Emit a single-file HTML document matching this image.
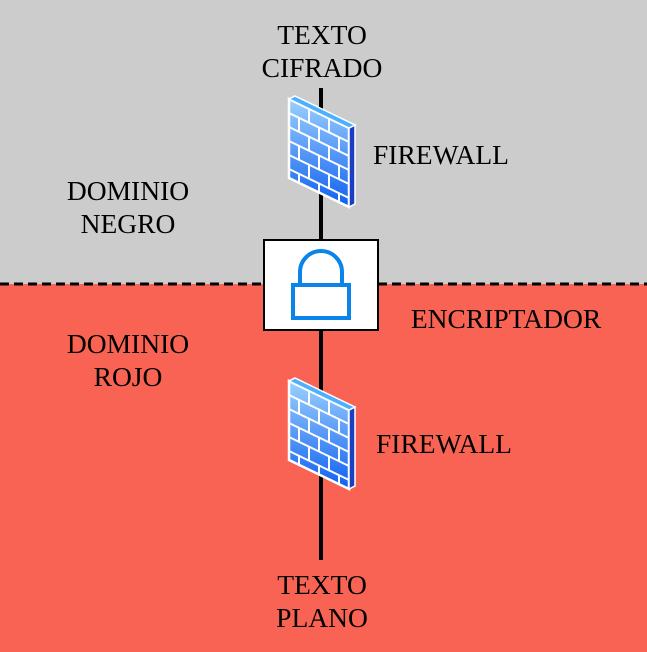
<!DOCTYPE html>
<html><head><style>
body{margin:0;width:647px;height:652px;overflow:hidden;font-family:"Liberation Serif",serif;}
.t{position:absolute;font-size:27.5px;color:#000;text-align:center;line-height:33px;}
</style></head><body>
<svg width="647" height="652" style="position:absolute;left:0;top:0">
<defs>
<linearGradient id="g" x1="0" y1="0" x2="0" y2="1"><stop offset="0" stop-color="#9cd0ff"/><stop offset="1" stop-color="#1060f0"/></linearGradient>
<g id="fw">
<polygon points="289,99 349,128 349,207 289,178" fill="url(#g)" stroke="#fff" stroke-width="2.5"/>
<polygon points="349,128 355,125 355,204 349,207" fill="#1a3fc0" stroke="#fff" stroke-width="1.5"/>
<polygon points="289,99 295,96 355,125 349,128" fill="#4db0ff" stroke="#fff" stroke-width="1.5"/>
<g stroke="#fff" stroke-width="2">
<line x1="289" y1="113" x2="349" y2="142"/><line x1="289" y1="127" x2="349" y2="156"/>
<line x1="289" y1="141" x2="349" y2="170"/><line x1="289" y1="155" x2="349" y2="184"/>
<line x1="289" y1="169" x2="349" y2="198"/>
<line x1="309" y1="109" x2="309" y2="123"/><line x1="329" y1="118" x2="329" y2="133"/>
<line x1="299" y1="118" x2="299" y2="132"/><line x1="319" y1="127" x2="319" y2="142"/><line x1="339" y1="137" x2="339" y2="151"/>
<line x1="309" y1="136" x2="309" y2="151"/><line x1="329" y1="146" x2="329" y2="161"/>
<line x1="299" y1="146" x2="299" y2="160"/><line x1="319" y1="155" x2="319" y2="170"/><line x1="339" y1="165" x2="339" y2="179"/>
<line x1="309" y1="165" x2="309" y2="179"/><line x1="329" y1="174" x2="329" y2="189"/>
<line x1="339" y1="193" x2="339" y2="203"/><line x1="319" y1="183" x2="319" y2="193"/><line x1="299" y1="174" x2="299" y2="184"/>
</g></g>
</defs>
<rect x="0" y="0" width="647" height="284" fill="#cccccc"/>
<rect x="0" y="284" width="647" height="368" fill="#f96353"/>
<line x1="0" y1="284" x2="647" y2="284" stroke="#000" stroke-width="3" stroke-dasharray="9,5"/>
<line x1="321" y1="88" x2="321" y2="560" stroke="#000" stroke-width="4"/>
<use href="#fw"/>
<use href="#fw" transform="translate(0,282)"/>
<rect x="264" y="240" width="114" height="90" fill="#fff" stroke="#000" stroke-width="2"/>
<path d="M300,285 V272 a21,21 0 0 1 42,0 V285" fill="none" stroke="#0a84ea" stroke-width="4"/>
<rect x="293" y="285" width="56" height="33" fill="none" stroke="#0a84ea" stroke-width="4"/>
</svg>
<div class="t" style="left:222px;top:18px;width:200px">TEXTO<br>CIFRADO</div>
<div class="t" style="left:356px;top:138px;width:170px">FIREWALL</div>
<div class="t" style="left:28px;top:174px;width:200px">DOMINIO<br>NEGRO</div>
<div class="t" style="left:396px;top:302px;width:220px">ENCRIPTADOR</div>
<div class="t" style="left:28px;top:327px;width:200px">DOMINIO<br>ROJO</div>
<div class="t" style="left:359px;top:427px;width:170px">FIREWALL</div>
<div class="t" style="left:222px;top:568px;width:200px">TEXTO<br>PLANO</div>
</body></html>
